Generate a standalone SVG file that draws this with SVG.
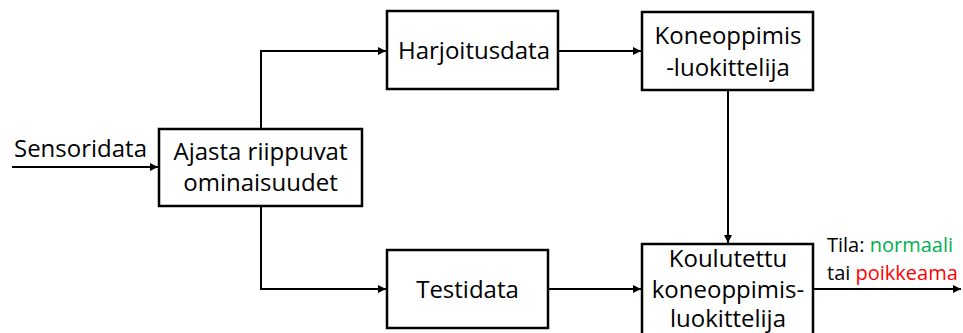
<svg xmlns="http://www.w3.org/2000/svg" width="963" height="333" viewBox="0 0 963 333">
  <style>
    .box { fill: #ffffff; stroke: #000000; stroke-width: 2.5; }
    .lbl { font-family: "Open Sans", "Liberation Sans", sans-serif; font-size: 24px; fill: #000000; text-anchor: middle; }
    .out { font-family: "Open Sans", "Liberation Sans", sans-serif; font-size: 20px; fill: #000000; }
    .wire { fill: none; stroke: #000000; stroke-width: 2; marker-end: url(#arrow); }
  </style>
  <defs>
    <marker id="arrow" viewBox="0 0 10 10" refX="10" refY="5" markerWidth="4" markerHeight="4" orient="auto" markerUnits="strokeWidth">
      <path d="M0,0 L10,5 L0,10 z" fill="#000000"/>
    </marker>
  </defs>
  <rect width="963" height="333" fill="#ffffff"/>

  <g id="connectors">
    <path class="wire" d="M12,167 H158"/>
    <path class="wire" d="M261,129 V51 H386"/>
    <path class="wire" d="M261,206 V289 H386"/>
    <path class="wire" d="M558,51 H641"/>
    <path class="wire" d="M728,90 V243"/>
    <path class="wire" d="M548,289 H641"/>
    <path class="wire" d="M813,289 H961"/>
  </g>

  <g id="sensoridata">
    <text class="lbl" x="80.5" y="157">Sensoridata</text>
  </g>

  <g id="ajasta">
    <rect class="box" x="159" y="129" width="203" height="77"/>
    <text class="lbl" x="260.5" y="160">Ajasta riippuvat</text>
    <text class="lbl" x="260.5" y="191">ominaisuudet</text>
  </g>

  <g id="harjoitusdata">
    <rect class="box" x="387" y="11" width="171" height="78"/>
    <text class="lbl" x="474" y="59">Harjoitusdata</text>
  </g>

  <g id="testidata">
    <rect class="box" x="387" y="250" width="161" height="78"/>
    <text class="lbl" x="467.5" y="298">Testidata</text>
  </g>

  <g id="koneoppimis">
    <rect class="box" x="642" y="12" width="171" height="78"/>
    <text class="lbl" x="728" y="44">Koneoppimis</text>
    <text class="lbl" x="728" y="76">-luokittelija</text>
  </g>

  <g id="koulutettu">
    <rect class="box" x="642" y="244" width="171" height="100"/>
    <text class="lbl" x="728" y="267">Koulutettu</text>
    <text class="lbl" x="728" y="298">koneoppimis-</text>
    <text class="lbl" x="728" y="327">luokittelija</text>
  </g>

  <g id="tila">
    <text class="out" x="827" y="252">Tila: <tspan fill="#00b050">normaali</tspan></text>
    <text class="out" x="827" y="280">tai <tspan fill="#ff0000">poikkeama</tspan></text>
  </g>
</svg>
